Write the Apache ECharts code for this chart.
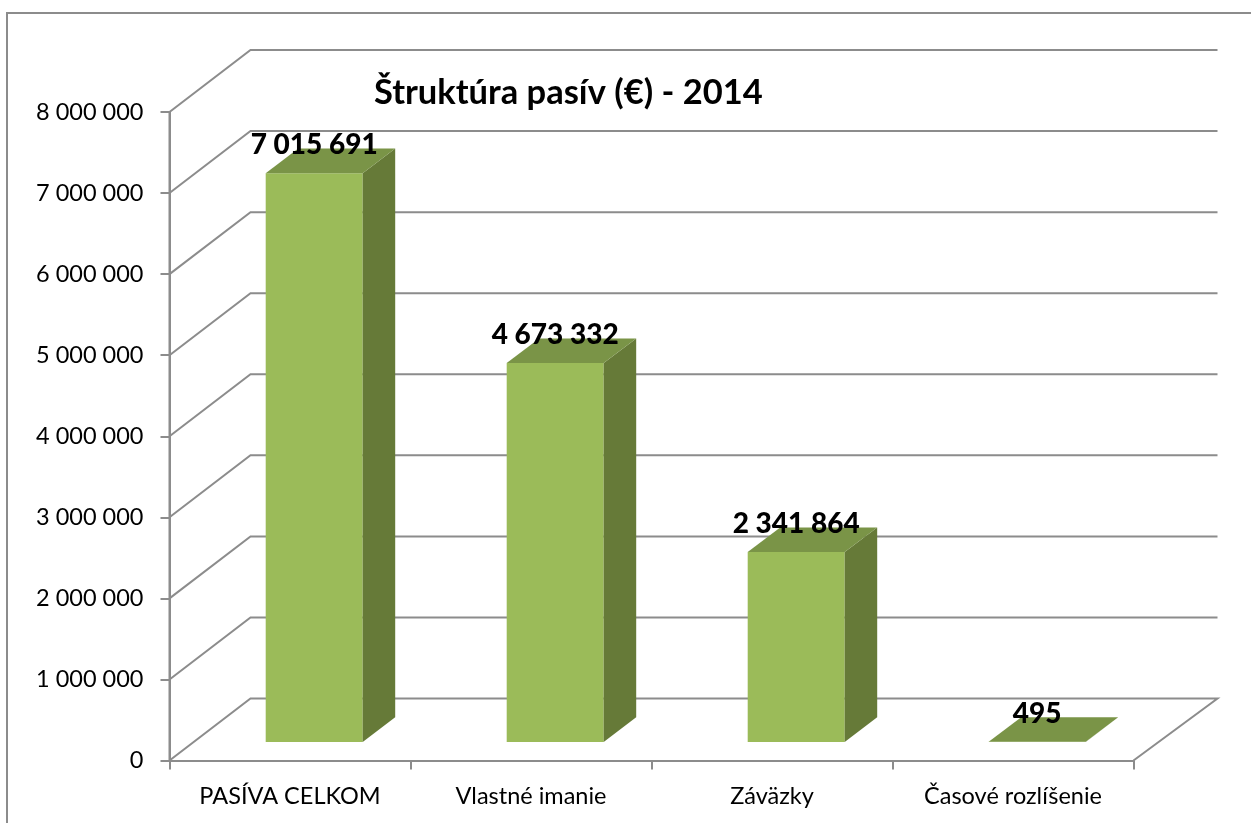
<!DOCTYPE html>
<html lang="sk">
<head>
    <meta charset="UTF-8">
    <title>Štruktúra pasív (€) - 2014</title>
    <script src="https://cdn.jsdelivr.net/npm/echarts@6/dist/echarts.min.js"></script>
    <style>
        html, body { margin: 0; padding: 0; background: #fff; }
        #main { width: 1251px; height: 823px; }
    </style>
</head>
<body>
    <div id="main"></div>
    <script>
        var categories = ['PASÍVA CELKOM', 'Vlastné imanie', 'Záväzky', 'Časové rozlíšenie'];
        var values = [7015691, 4673332, 2341864, 495];
        var valueLabels = ['7 015 691', '4 673 332', '2 341 864', '495'];
        var yTicks = [0, 1000000, 2000000, 3000000, 4000000, 5000000, 6000000, 7000000, 8000000];
        var yTickLabels = ['0', '1 000 000', '2 000 000', '3 000 000', '4 000 000', '5 000 000', '6 000 000', '7 000 000', '8 000 000'];

        var FONT = 'Lato, "Open Sans", sans-serif';
        var LINE = '#8c8c8c';
        // pseudo 3D offsets, in pixels
        var WALL_DX = 81, WALL_DY = 62;
        var BAR_SHIFT_X = 24.2, BAR_SHIFT_Y = 18.6;
        var BAR_DX = 32.5, BAR_DY = 24.6;
        var BAR_WIDTH = 97;

        var myChart = echarts.init(document.getElementById('main'));

        function renderWall(params, api) {
            var y = api.coord([0, api.value(0)])[1];
            var cs = params.coordSys;
            var left = cs.x, right = cs.x + cs.width;
            var pts = [[left, y], [left + WALL_DX, y - WALL_DY], [right + 84, y - WALL_DY]];
            if (api.value(0) === 0) {
                pts.push([right, y]);
                // the front vertical axis line, floor corner up to the top tick
                return {
                    type: 'group',
                    children: [
                        { type: 'polyline', shape: { points: pts }, style: { stroke: LINE, lineWidth: 2, fill: null } },
                        { type: 'line', shape: { x1: left, y1: y, x2: left, y2: cs.y }, style: { stroke: LINE, lineWidth: 2 } }
                    ]
                };
            }
            return {
                type: 'polyline',
                shape: { points: pts },
                style: { stroke: LINE, lineWidth: 2, fill: null }
            };
        }

        function renderBar(params, api) {
            var top = api.coord([api.value(0), api.value(1)]);
            var base = api.coord([api.value(0), 0]);
            var x0 = top[0] + BAR_SHIFT_X - BAR_WIDTH / 2;
            var x1 = x0 + BAR_WIDTH;
            var yt = top[1] - BAR_SHIFT_Y;
            var yb = base[1] - BAR_SHIFT_Y;
            return {
                type: 'group',
                children: [
                    { type: 'rect', shape: { x: x0, y: yt, width: BAR_WIDTH, height: yb - yt }, style: { fill: '#9bbb59' } },
                    { type: 'polygon', shape: { points: [[x1, yt], [x1 + BAR_DX, yt - BAR_DY], [x1 + BAR_DX, yb - BAR_DY], [x1, yb]] }, style: { fill: '#667a38' } },
                    { type: 'polygon', shape: { points: [[x0, yt], [x0 + BAR_DX, yt - BAR_DY], [x1 + BAR_DX, yt - BAR_DY], [x1, yt]] }, style: { fill: '#7a9447' } },
                    {
                        type: 'text',
                        style: {
                            x: (x0 + x1) / 2,
                            y: yt - 28,
                            text: valueLabels[params.dataIndex],
                            fill: '#000',
                            font: '900 28px ' + FONT,
                            align: 'center',
                            verticalAlign: 'middle'
                        }
                    }
                ]
            };
        }

        var option = {
            animation: false,
            backgroundColor: '#fff',
            title: {
                text: 'Štruktúra pasív (€) - 2014',
                left: 369,
                top: 70,
                textStyle: { fontFamily: FONT, fontWeight: 'bold', fontSize: 34.5, color: '#000' }
            },
            grid: { left: 169.5, top: 112, width: 964, height: 648.5 },
            xAxis: {
                type: 'category',
                data: categories,
                axisLine: { show: true, onZero: false, lineStyle: { color: LINE, width: 2 } },
                axisTick: { show: true, length: 9, lineStyle: { color: LINE, width: 2 } },
                axisLabel: { fontFamily: FONT, fontSize: 23.5, color: '#000', margin: 24 }
            },
            yAxis: {
                type: 'value',
                min: 0,
                max: 8000000,
                interval: 1000000,
                splitLine: { show: false },
                axisLine: { show: true, onZero: false, lineStyle: { color: LINE, width: 2 } },
                axisTick: { show: true, length: 9, lineStyle: { color: LINE, width: 2 } },
                axisLabel: {
                    fontFamily: FONT,
                    fontSize: 23.5,
                    color: '#000',
                    margin: 26,
                    padding: [12, 0, 0, 0],
                    formatter: function (v) { return yTickLabels[yTicks.indexOf(v)]; }
                }
            },
            series: [
                {
                    type: 'custom',
                    z: 1,
                    silent: true,
                    clip: false,
                    renderItem: renderWall,
                    encode: { y: 0 },
                    data: yTicks.map(function (v) { return [v]; })
                },
                {
                    type: 'custom',
                    z: 3,
                    renderItem: renderBar,
                    encode: { x: 0, y: 1 },
                    data: values.map(function (v, i) { return [i, v]; })
                }
            ],
            graphic: [{
                type: 'polyline',
                silent: true,
                shape: { points: [[7, 823], [7, 13], [1251, 13]] },
                style: { stroke: LINE, lineWidth: 2, fill: null }
            }]
        };

        myChart.setOption(option);
    </script>
</body>
</html>
